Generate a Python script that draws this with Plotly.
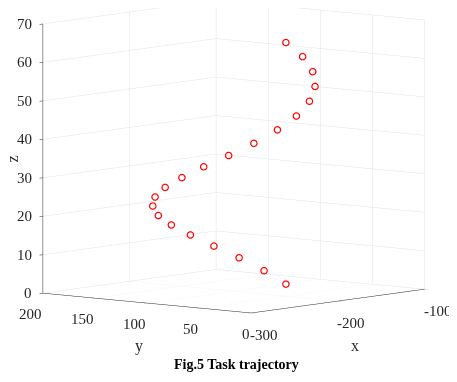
import plotly.graph_objects as go

# Helix trajectory points
x_vals = [-140.0, -142.9, -151.5, -164.7, -181.5, -200.0, -218.5, -235.3, -248.5, -257.1, -260.0,
          -257.1, -248.5, -235.3, -218.5, -200.0, -181.5, -164.7, -151.5, -142.9, -140.0]
y_vals = [100.0, 118.5, 135.3, 148.5, 157.1, 160.0, 157.1, 148.5, 135.3, 118.5, 100.0,
          81.5, 64.7, 51.5, 42.9, 40.0, 42.9, 51.5, 64.7, 81.5, 100.0]
z_vals = [0.0, 3.1, 6.3, 9.4, 12.6, 15.7, 18.8, 22.0, 25.1, 28.3, 31.4,
          34.6, 37.7, 40.8, 44.0, 47.1, 50.3, 53.4, 56.5, 59.7, 62.8]

x_ticks = [-300, -200, -100]
y_ticks = [0, 50, 100, 150, 200]
z_ticks = [0, 10, 20, 30, 40, 50, 60, 70]

X_RANGE = [-300, -100]
Y_RANGE = [0, 200]
Z_RANGE = [0, 70]

FONT = "Liberation Serif"
AX = "#262626"
TICK_FONT = dict(family=FONT, size=15, color=AX)
TITLE_FONT = dict(family=FONT, size=16, color=AX)

fig = go.Figure(go.Scatter3d(
    x=x_vals, y=y_vals, z=z_vals, mode="markers",
    marker=dict(symbol="circle-open", size=4, color="#ff0000",
                line=dict(width=2, color="#ff0000")),
    hoverinfo="skip",
))


def axis(rng, ticks):
    return dict(
        title=dict(text=""),
        range=rng, tickvals=ticks, showticklabels=False,
        autorange=False,
        showgrid=True, gridcolor="#e3e3e3", gridwidth=1,
        showline=True, linecolor=AX, linewidth=1,
        ticks="outside", tickcolor=AX, ticklen=5,
        showbackground=False, zeroline=False, showspikes=False,
    )


# tick labels and axis titles placed MATLAB-style as scene annotations
ann = []
for t in z_ticks:
    ann.append(dict(x=X_RANGE[0], y=Y_RANGE[1], z=t, text=str(t), showarrow=False,
                    xanchor="right", yanchor="middle", xshift=-9, font=TICK_FONT))
for t in y_ticks:
    ann.append(dict(x=X_RANGE[0], y=t, z=Z_RANGE[0], text=str(t), showarrow=False,
                    xanchor="right", yanchor="middle", xshift=1, yshift=-21, font=TICK_FONT))
for t in x_ticks:
    ann.append(dict(x=t, y=Y_RANGE[0], z=Z_RANGE[0], text=str(t), showarrow=False,
                    xanchor="left", yanchor="middle", xshift=-3, yshift=-22, font=TICK_FONT))
ann.append(dict(x=X_RANGE[0], y=Y_RANGE[1], z=35, text="z", showarrow=False,
                xanchor="center", yanchor="middle", xshift=-30, textangle=-90, font=TITLE_FONT))
ann.append(dict(x=X_RANGE[0], y=100, z=Z_RANGE[0], text="y", showarrow=False,
                xanchor="center", yanchor="middle", xshift=-8, yshift=-43, font=TITLE_FONT))
ann.append(dict(x=-200, y=Y_RANGE[0], z=Z_RANGE[0], text="x", showarrow=False,
                xanchor="center", yanchor="middle", xshift=17, yshift=-44, font=TITLE_FONT))

S = 1.54
CX, CY, CZ = 0.0102, -0.0123, -0.157
fig.update_layout(
    width=457, height=382,
    margin=dict(l=0, r=0, t=0, b=30),
    paper_bgcolor="white",
    showlegend=False,
    scene=dict(
        xaxis=axis(X_RANGE, x_ticks),
        yaxis=axis(Y_RANGE, y_ticks),
        zaxis=axis(Z_RANGE, z_ticks),
        aspectmode="manual",
        aspectratio=dict(x=S, y=S, z=S),
        camera=dict(projection=dict(type="orthographic"),
                    eye=dict(x=-1.54 + CX, y=-1.28 + CY, z=0.23 + CZ),
                    up=dict(x=0, y=0, z=1),
                    center=dict(x=CX, y=CY, z=CZ)),
        domain=dict(x=[0, 1], y=[0, 1]),
        annotations=ann,
    ),
    annotations=[dict(text="<b>Fig.5 Task trajectory</b>", x=0.5, y=0.0,
                      xref="paper", yref="paper", xanchor="center", yanchor="top",
                      yshift=5, showarrow=False,
                      font=dict(family=FONT, size=14, color="black"))],
)

fig.write_html("out.html")
